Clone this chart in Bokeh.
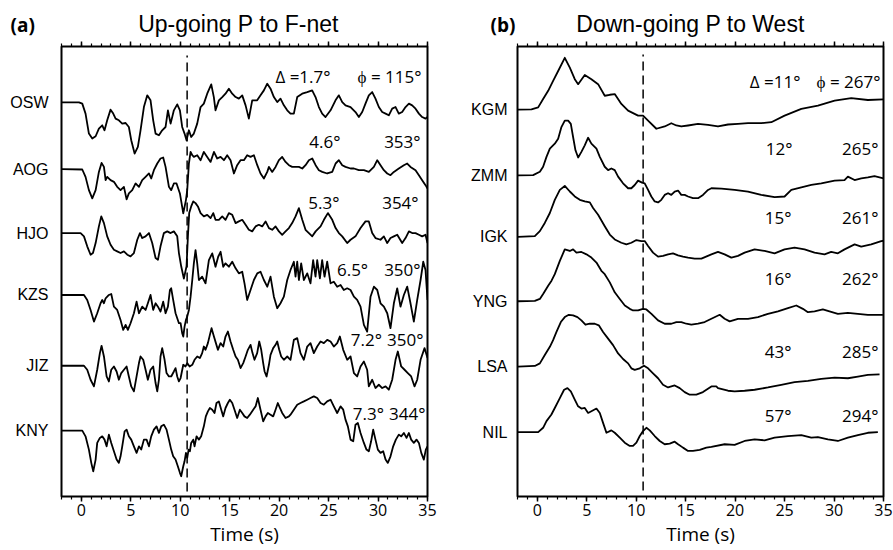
from bokeh.plotting import figure
from bokeh.layouts import row, column
from bokeh.models import Label, Range1d, SingleIntervalTicker, LinearAxis, FixedTicker
from bokeh.embed import file_html
from bokeh.resources import INLINE

# ------------------------------------------------------------------ data
time_ticks_interval = 5
p_arrival = 10.7          # dashed line, seconds

panel_letters = ["(a)", "(b)"]
panel_titles = ["Up-going P to F-net", "Down-going P to West"]

stations_a = ["OSW", "AOG", "HJO", "KZS", "JIZ", "KNY"]
dist_a = ["\u0394 =1.7\u00b0", "4.6\u00b0", "5.3\u00b0", "6.5\u00b0", "7.2\u00b0", "7.3\u00b0"]
azim_a = ["\u03d5 = 115\u00b0", "353\u00b0", "354\u00b0", "350\u00b0", "350\u00b0", "344\u00b0"]

stations_b = ["KGM", "ZMM", "IGK", "YNG", "LSA", "NIL"]
dist_b = ["\u0394 =11\u00b0", "12\u00b0", "15\u00b0", "16\u00b0", "43\u00b0", "57\u00b0"]
azim_b = ["\u03d5 = 267\u00b0", "265\u00b0", "261\u00b0", "262\u00b0", "285\u00b0", "294\u00b0"]

# (time s, relative amplitude)
osw = [(-1.95,0),(-0.24,0),(0.10,-1.3),(0.43,-11.3),(0.77,-31.3),(1.11,-36.3),(1.45,-34),(1.78,-26.3),(2.12,-23),(2.35,-28),(2.62,-18),(2.96,-7.3),(3.23,-11.3),(3.47,-16.3),(3.80,-18),(4.14,-21.3),(4.48,-20.7),(4.81,-24.7),(5.05,-38),(5.39,-51.3),(5.72,-44.7),(5.99,-28),(6.33,-4.7),(6.67,7),(7.00,2),(7.27,-18),(7.51,-31.3),(7.85,-33),(8.18,-28),(8.52,-24.7),(8.76,-8),(9.03,-21.3),(9.36,-8),(9.70,-2),(9.97,-8),(10.20,-24.7),(10.44,-31.3),(10.64,-38),(10.88,-28),(11.11,-34.7),(11.38,-31.3),(11.72,-21.3),(12.06,-4.7),(12.39,-1.3),(12.73,8.7),(13.14,18),(13.40,5.3),(13.57,-8),(13.91,2),(14.25,5.3),(14.58,8.7),(14.92,13.7),(15.26,8.7),(15.60,5.3),(15.93,3.7),(16.27,7),(16.61,-3),(16.94,-16.3),(17.28,2),(17.78,2),(18.12,7),(18.46,12),(18.80,18.7),(19.13,13.7),(19.47,5.3),(19.81,0.3),(20.14,3.7),(20.48,-3),(20.82,-8),(21.15,-11.3),(21.49,-11.3),(21.83,5.3),(22.33,8.7),(22.84,10.3),(23.34,12),(23.68,5.3),(24.02,-4.7),(24.35,-11.3),(24.69,-14.7),(25.20,-8),(25.70,2),(26.04,7),(26.38,0.3),(26.71,-3),(27.22,-4.7),(27.72,-9.7),(28.06,-14.7),(28.40,-9.7),(28.73,-1.3),(29.07,7),(29.41,10.3),(29.74,3.7),(30.08,-4.7),(30.42,-9.7),(30.76,-11.3),(31.09,-13),(31.43,-6.3),(31.77,-4.7),(32.10,-11.3),(32.44,-9.7),(32.78,-4.7),(33.12,-1.3),(33.45,-3),(33.79,-6.3),(34.13,-11.3),(34.46,-14.7),(34.80,-16.3),(35.0,-14.7)]
aog = [(-1.95,0),(0.10,-0.3),(0.43,-7.7),(0.77,-21),(1.11,-29.3),(1.45,-21),(1.78,-2.7),(2.05,6.3),(2.29,2.3),(2.46,-11),(2.62,-7.7),(2.96,-11),(3.30,-12.7),(3.63,-17.7),(3.97,-21),(4.31,-17.7),(4.58,-30.3),(4.81,-24.3),(5.15,-21),(5.49,-14.3),(5.83,-17.7),(6.16,-11),(6.50,-7.7),(6.84,-4.3),(7.07,-9.3),(7.34,-1),(7.68,5.7),(8.01,10.7),(8.28,11.7),(8.52,2.3),(8.86,-17.7),(9.09,-21),(9.36,-14.3),(9.63,-14.3),(9.97,-24.3),(10.20,-37.7),(10.31,-44.3),(10.44,-37.7),(10.58,-31),(10.71,-21),(10.88,5.7),(11.05,17.3),(11.22,14),(11.38,12.3),(11.72,14),(12.06,9),(12.39,17.3),(12.73,12.3),(13.07,7.3),(13.41,17.3),(13.74,10.7),(14.08,12.3),(14.42,9),(14.75,14),(15.09,9),(15.43,-4.3),(15.76,4),(16.10,9),(16.44,9),(16.77,14),(17.11,12.3),(17.45,14),(17.79,4),(18.12,-4.3),(18.46,-9.3),(18.80,-2.7),(18.97,2.3),(19.30,-2.7),(19.64,2.3),(19.98,9),(20.31,12.3),(20.65,7.3),(20.99,4),(21.32,2.3),(21.66,2.3),(22.00,2.3),(22.34,0.7),(22.67,4),(23.01,9),(23.35,10.7),(23.69,4),(24.02,-1),(24.36,-2.7),(24.86,-4.3),(25.37,-2.7),(25.71,5.7),(26.04,9),(26.38,4),(26.71,2.3),(27.22,0.7),(27.56,0.7),(28.06,-1),(28.57,-1),(29.07,-2.7),(29.58,2.3),(29.92,9),(30.25,4),(30.59,-1),(30.93,-4.3),(31.26,-6),(31.60,-2.7),(32.10,0.7),(32.61,4),(32.95,5.7),(33.28,2.3),(33.79,-1),(34.13,-6),(34.46,-11),(34.80,-16),(35.0,-19.3)]
hjo = [(-1.95,0),(-0.07,0),(0.27,-3.3),(0.60,-13.3),(0.94,-21.7),(1.18,-20),(1.45,-10),(1.78,6.7),(2.02,16.7),(2.29,10),(2.62,-3.3),(2.96,-11.7),(3.30,-16.7),(3.63,-18.3),(3.97,-20),(4.31,-18.3),(4.65,-21.7),(4.98,-23.3),(5.32,-20),(5.66,-6.7),(5.93,0),(6.16,-5),(6.50,-3.3),(6.84,0),(7.17,-10),(7.51,-25),(7.75,-26.7),(8.01,-13.3),(8.35,0),(8.69,1.7),(9.03,0),(9.36,1.7),(9.70,-3.3),(9.87,-20),(10.10,-33.3),(10.37,-45.7),(10.64,-33.3),(10.78,-3.3),(10.91,20),(11.11,26.7),(11.32,31.7),(11.55,30),(11.79,26.7),(12.06,20),(12.39,16.7),(12.73,18.3),(13.07,15),(13.34,20),(13.57,13.3),(13.91,13.3),(14.25,16.7),(14.58,13.3),(14.92,20),(15.26,18.3),(15.60,10),(15.93,11.7),(16.27,13.3),(16.61,8.3),(16.94,3.3),(17.28,1.7),(17.62,6.7),(17.95,8.3),(18.29,6.7),(18.63,11.7),(18.97,5),(19.30,3.3),(19.64,6.7),(19.98,1.7),(20.31,-1.7),(20.65,1.7),(20.99,5),(21.32,10),(21.66,16.7),(22.00,25),(22.34,13.3),(22.67,3.3),(23.01,0),(23.35,-3.3),(23.69,1.7),(24.19,6.7),(24.53,13.3),(24.93,20),(25.37,13.3),(25.71,5),(26.04,0),(26.38,-3.3),(26.88,-10),(27.22,-6.7),(27.72,-3.3),(28.23,5),(28.73,11.7),(29.07,11.7),(29.41,0),(29.74,-5),(30.25,-6.7),(30.59,-3.3),(30.93,-10),(31.26,-5),(31.60,-3.3),(31.94,-1.7),(32.44,-10),(32.78,-5),(33.12,1.7),(33.45,0),(33.79,0),(34.13,-1.7),(34.46,-3.3),(34.80,-1.7),(35.0,-10)]
kzs = [(-1.95,0),(0.27,0),(0.60,-5),(0.94,-15),(1.28,-26.7),(1.61,-18.3),(1.95,-8.3),(2.12,-5),(2.29,-8.3),(2.46,-3.3),(2.79,0),(3.03,1),(3.30,-11.7),(3.63,-15),(3.97,-25),(4.24,-35),(4.48,-30),(4.71,-35),(4.98,-28.3),(5.32,-18.3),(5.59,-6.7),(5.83,-18.3),(6.16,-11.7),(6.50,-15),(6.73,-8.3),(7.00,0),(7.27,-15),(7.51,-8.3),(7.75,-11.7),(8.01,-16.7),(8.28,-6.7),(8.52,-18.3),(8.76,-11.7),(8.96,5),(9.09,6.7),(9.29,-5),(9.53,-18.3),(9.87,-28.3),(10.04,-28.3),(10.20,-38.3),(10.31,-41.7),(10.44,-31.7),(10.58,-25),(10.71,-21.7),(10.88,-15),(11.05,-1.7),(11.22,15),(11.38,31.7),(11.55,45),(11.72,31.7),(11.89,15),(12.22,18.3),(12.56,11.7),(12.90,35),(13.24,41.7),(13.57,28.3),(13.84,38.3),(14.08,43.3),(14.35,28.3),(14.58,31.7),(14.92,28.3),(15.26,33.3),(15.60,26.7),(15.93,21.7),(16.27,23.3),(16.50,11.7),(16.77,-5),(17.11,5),(17.45,15),(17.79,21.7),(18.12,23.3),(18.46,15),(18.80,8.3),(19.13,18.3),(19.47,-1.7),(19.81,-13.3),(20.14,-8.3),(20.48,-1.7),(20.82,15),(21.15,25),(21.49,33.3),(21.66,18.3),(21.83,33.3),(22.00,15),(22.23,31.7),(22.50,15),(22.84,21.7),(23.17,11.7),(23.44,35),(23.68,18.3),(23.85,35),(24.12,16.7),(24.35,35),(24.59,18.3),(24.86,33.3),(25.20,11.7),(25.53,13.3),(25.87,8.3),(26.21,10),(26.54,5),(26.88,6.7),(27.22,5),(27.56,-1.7),(27.89,-5),(28.23,-11.7),(28.57,-30),(28.90,-36.7),(29.24,-1.7),(29.58,8.3),(29.92,5),(30.25,-8.3),(30.59,-11.7),(30.93,-18.3),(31.26,-33.3),(31.60,-8.3),(31.94,6.7),(32.27,-11.7),(32.61,0),(32.95,8.3),(33.28,-8.3),(33.62,-26.7),(33.96,-5),(34.30,15),(34.57,33.3),(34.80,25),(35.0,-5)]
jiz = [(-1.95,0),(0.27,0),(0.60,-4),(0.94,-14),(1.28,-20.7),(1.61,-4),(1.88,12.7),(2.05,20),(2.29,9.3),(2.56,-10.7),(2.79,-15.7),(3.03,-4),(3.30,-0.7),(3.57,-5.7),(3.80,-14),(4.04,-7.3),(4.31,-4),(4.58,-0.7),(4.81,-10.7),(5.05,-20.7),(5.32,-25.7),(5.59,-10.7),(5.83,2.7),(5.99,9.3),(6.26,6),(6.50,-4),(6.73,-14),(7.00,-4),(7.27,-0.7),(7.51,-17.3),(7.68,-25.7),(7.85,-14),(8.01,9.3),(8.18,17.7),(8.42,6),(8.62,-7.3),(8.86,-10.7),(9.09,-10.7),(9.36,-5.7),(9.53,-2.3),(9.70,-10.7),(9.87,-15.7),(10.04,-12.3),(10.31,1),(10.54,-0.7),(10.71,2.7),(10.95,-0.7),(11.22,1),(11.45,6),(11.72,9.3),(11.99,7.7),(12.22,12.7),(12.39,19.3),(12.56,16),(12.80,22.7),(13.00,31),(13.17,37.7),(13.41,29.3),(13.61,22.7),(13.81,16),(14.08,22.7),(14.35,19.3),(14.58,29.3),(14.82,34.3),(15.09,24.3),(15.36,16),(15.60,9.3),(15.83,6),(16.10,-2.3),(16.37,2.7),(16.61,9.3),(16.84,16),(17.11,21),(17.31,12.7),(17.51,6),(17.78,12.7),(17.99,24.3),(18.19,16),(18.39,2.7),(18.53,-5.7),(18.73,-10.7),(18.97,1),(19.13,11),(19.40,17.7),(19.64,21),(19.81,24.3),(20.01,16),(20.21,9.3),(20.48,6),(20.82,9.3),(21.15,6),(21.49,26),(21.83,27.7),(22.16,12.7),(22.50,6),(22.84,19.3),(23.17,22.7),(23.51,12.7),(23.85,19.3),(24.19,24.3),(24.52,22.7),(24.86,26),(25.20,24.3),(25.53,19.3),(25.87,22.7),(26.14,29.3),(26.48,16),(26.88,6),(27.22,9.3),(27.56,-7.3),(27.89,-10.7),(28.23,-0.7),(28.57,4.3),(28.90,-4),(29.07,-20.7),(29.41,-14),(29.74,-22.3),(30.08,-19),(30.42,-22.3),(30.76,-20.7),(31.09,-24),(31.43,-14),(31.77,6),(32.00,14.3),(32.34,-0.7),(32.68,-4),(33.01,-7.3),(33.35,-10.7),(33.69,-20.7),(33.96,-14),(34.30,6),(34.70,17.7),(35.0,7.7)]
kny = [(-1.95,0),(0.10,0),(0.43,-5.7),(0.77,-19),(1.01,-32.3),(1.21,-40.7),(1.45,-29),(1.61,-12.3),(1.88,-7.3),(2.12,-5.7),(2.35,-9),(2.56,-15.7),(2.79,-4),(3.03,-12.3),(3.30,-20.7),(3.57,-29),(3.80,-32.3),(3.97,-25.7),(4.14,-15.7),(4.38,-0.7),(4.58,1),(4.81,-5.7),(5.05,-9),(5.32,-15.7),(5.59,-22.3),(5.83,-15.7),(6.06,-19),(6.33,-9),(6.60,-9),(6.84,-15.7),(7.07,-5.7),(7.34,1),(7.61,4.3),(7.85,-2.3),(8.08,4.3),(8.35,6),(8.62,1),(8.86,-9),(9.09,-19),(9.29,-25.7),(9.53,-29),(9.76,-35.7),(9.97,-42.3),(10.10,-45.7),(10.31,-35.7),(10.44,-30.7),(10.58,-22.3),(10.71,-27.3),(10.85,-19),(10.98,-20.7),(11.11,-12.3),(11.32,-9),(11.45,-15.7),(11.65,-5.7),(11.89,-9),(12.12,-5.7),(12.39,4.3),(12.59,14.3),(12.80,19.3),(13.00,22.7),(13.24,21),(13.47,17.7),(13.67,27.7),(13.91,29.3),(14.15,21),(14.35,14.3),(14.58,22.7),(14.82,27.7),(15.02,31),(15.26,27.7),(15.49,21),(15.76,12.7),(16.03,21),(16.27,17.7),(16.50,14.3),(16.77,12.7),(17.04,16),(17.38,21),(17.62,24.3),(17.85,32.7),(18.12,21),(18.39,9.3),(18.63,14.3),(18.86,17.7),(19.13,16),(19.40,14.3),(19.64,21),(19.87,27.7),(20.08,22.7),(20.31,17.7),(20.65,12.7),(20.99,14.3),(21.15,16),(21.49,21),(21.83,26),(22.16,27.7),(22.50,29.3),(22.84,31),(23.17,32.7),(23.51,34.3),(23.85,32.7),(24.19,27.7),(24.52,26),(24.86,29.3),(25.20,31),(25.53,24.3),(25.87,17.7),(26.21,24.3),(26.48,21),(26.71,11),(26.95,4.3),(27.22,-9),(27.49,-10.7),(27.72,6),(27.96,7.7),(28.23,-2.3),(28.57,-12.3),(28.83,-19),(29.07,-20.7),(29.30,-10.7),(29.51,1),(29.74,-9),(29.98,-19),(30.25,-22.3),(30.52,-20.7),(30.76,-29),(30.99,-32.3),(31.26,-25.7),(31.53,-15.7),(31.80,-9),(32.10,-4),(32.34,-5.7),(32.61,-2.3),(32.88,-7.3),(33.12,-2.3),(33.35,-9),(33.62,-12.3),(33.89,-9),(34.13,-12.3),(34.37,-22.3),(34.63,-29),(34.83,-19),(35.0,-15.7)]

kgm = [(-1.95,0),(-0.59,0.3),(0.09,2.3),(0.59,10.7),(1.10,19),(1.60,29),(2.11,39),(2.78,52.3),(3.29,42.3),(3.79,30.7),(4.13,25.7),(4.80,35),(5.47,30.7),(6.15,25.7),(6.82,14),(7.33,15),(7.83,15.7),(8.50,5.7),(9.18,-1),(10.19,-6),(10.69,-6),(11.20,-11),(12.04,-19.3),(12.88,-17),(13.55,-13.7),(14.06,-16),(14.56,-17),(15.24,-16),(16.25,-14.3),(17.26,-15.3),(18.27,-17),(19.28,-15),(20.29,-14.3),(21.30,-13.7),(22.64,-13.7),(23.66,-12.7),(25.00,-6),(26.69,0.7),(28.37,4),(30.06,9),(31.74,11.7),(33.42,9.7),(35.0,10.3)]
zmm = [(-1.95,0),(-0.42,0.3),(0.26,3.7),(0.59,8.7),(0.93,18.7),(1.27,27),(1.77,32),(2.11,37),(2.44,48.7),(2.78,55.3),(3.12,55.3),(3.39,52),(3.62,38.7),(3.86,25.3),(4.13,18),(4.46,23.7),(4.80,30.3),(5.14,38),(5.47,32),(5.98,27),(6.32,18.7),(6.82,8.7),(7.16,5.3),(7.49,7),(7.83,5.3),(8.17,-1.3),(8.67,-8),(9.18,-13),(9.51,-13),(9.85,-9.7),(10.19,-5.3),(10.59,-7.3),(10.86,-8),(11.20,-14.7),(11.53,-21.3),(11.87,-26.3),(12.21,-27.3),(12.54,-24.7),(12.88,-19.7),(13.22,-18),(13.55,-19.7),(13.89,-16.3),(14.23,-15.3),(14.56,-19.7),(14.90,-19.7),(15.24,-21.3),(15.74,-23),(16.25,-23),(16.75,-19.7),(17.26,-14.7),(17.60,-13),(18.61,-13.3),(19.95,-14.7),(21.30,-16.3),(22.64,-19.7),(23.99,-22),(25.00,-21.3),(25.68,-14.7),(26.69,-12),(27.70,-9.7),(28.71,-8),(30.06,-5.3),(31.06,-4.7),(31.40,-1.3),(32.08,-4.7),(32.75,-3),(33.42,-2),(34.09,-0.7),(35.0,-3)]
igk = [(-1.95,0),(-0.25,0.7),(0.26,5.7),(0.76,14),(1.27,24),(1.77,37.3),(2.28,47.3),(2.78,51.3),(3.29,45.7),(3.79,40.7),(4.30,37.3),(4.80,35.7),(5.31,34.7),(5.64,29),(6.15,22.3),(6.82,10.7),(7.33,2.3),(7.83,-2.7),(8.50,-6),(9.01,-7.7),(9.51,-6),(10.02,-3.3),(10.52,-4.3),(10.86,-4.3),(11.20,-9.3),(11.70,-16),(12.21,-20),(12.71,-19.3),(13.22,-17.7),(13.72,-16.7),(14.23,-18.7),(14.73,-20),(15.24,-21),(15.91,-22),(16.59,-22),(17.60,-17.7),(18.27,-15.3),(18.94,-17.7),(19.62,-21),(20.29,-19.3),(20.96,-16),(21.97,-12.7),(22.98,-14.3),(23.99,-16.7),(25.00,-12.7),(26.01,-11),(27.02,-12.7),(28.03,-16),(29.04,-17.7),(29.71,-15.3),(30.39,-16.7),(31.06,-12.7),(32.08,-7.7),(32.75,-10),(33.76,-7.7),(34.77,-4.3),(35.0,-4)]
yng = [(-1.95,0),(-0.25,0.3),(0.26,2.3),(0.59,7.3),(1.10,15.7),(1.44,20.7),(1.77,27.3),(2.28,40.7),(2.78,52.3),(3.29,50.7),(3.62,52.3),(3.96,49),(4.46,49.7),(4.97,47.3),(5.47,44),(5.98,39),(6.48,30.7),(6.82,27.3),(7.33,19),(7.83,9),(8.34,2.3),(8.85,-4.3),(9.35,-7.7),(9.68,-9.3),(10.19,-9.3),(10.69,-7.7),(11.03,-8.3),(11.54,-12.7),(12.21,-19.3),(12.88,-22.7),(13.55,-22.7),(14.06,-21),(14.56,-21),(15.07,-22.7),(15.57,-23.7),(16.25,-22.7),(16.92,-21),(17.60,-17.7),(18.44,-13.7),(18.94,-17.7),(19.45,-20.3),(20.29,-17.7),(21.30,-17.7),(22.31,-16),(23.32,-12.7),(24.33,-10.3),(25.34,-7),(26.18,-4.3),(26.85,-7.7),(27.36,-11),(28.03,-10.3),(28.87,-8.3),(29.54,-10.3),(30.39,-12.7),(31.40,-11.7),(32.41,-12.7),(33.42,-13.7),(34.94,-13.7)]
lsa = [(-1.95,0),(-0.25,0.7),(0.26,3.3),(0.76,11.7),(1.27,20),(1.60,26.7),(1.94,35),(2.38,45),(2.78,50),(3.19,52.3),(3.62,51.7),(4.06,50),(4.46,46.7),(4.87,42.3),(5.31,43.3),(5.81,43.3),(6.22,41.7),(6.65,35),(7.16,28.3),(7.66,21.7),(8.17,13.3),(8.67,7.7),(9.18,3.3),(9.51,-1.7),(9.85,-3.3),(10.36,-1.7),(10.79,1),(11.20,-1.7),(11.70,-6.7),(12.21,-11.7),(12.71,-18.3),(13.22,-21),(13.89,-19),(14.40,-21.7),(14.90,-25.7),(15.41,-28.3),(16.08,-28.3),(16.75,-25.7),(17.60,-20),(18.10,-20),(18.27,-21.7),(19.28,-24.3),(19.95,-25),(20.96,-24.3),(21.97,-23.3),(23.32,-21),(24.66,-18.3),(26.01,-15.7),(27.36,-14.3),(28.71,-12.3),(30.06,-11),(31.40,-11.7),(32.41,-10),(33.42,-8.3),(34.60,-7.7)]
nil = [(-1.95,0),(0.09,0),(0.59,4.3),(0.93,11),(1.43,17.7),(1.77,24.3),(2.28,34.3),(2.71,42.7),(3.05,44.3),(3.39,41),(3.79,32.7),(4.13,26),(4.46,23.7),(4.80,24.3),(5.14,19.3),(5.47,21),(5.98,23.7),(6.32,19.3),(6.65,9.3),(6.99,-0.7),(7.49,1.7),(7.83,-0.7),(8.34,-5.7),(8.84,-10.7),(9.35,-14),(9.68,-14),(10.02,-10.7),(10.36,-4),(10.69,1),(11.03,4.3),(11.37,1.7),(11.87,-4),(12.38,-9),(12.88,-12.3),(13.39,-11.7),(13.89,-9.7),(14.23,-12.3),(14.73,-15.7),(15.24,-19),(15.74,-19),(16.42,-18),(17.09,-15.7),(17.60,-15),(18.94,-12.3),(19.95,-13),(20.96,-9),(21.97,-7.3),(22.98,-8.3),(23.99,-5.7),(25.34,-4),(26.69,-3),(27.70,-5.7),(28.37,-5),(29.38,-7.3),(30.39,-9),(31.40,-5.7),(32.41,-3),(33.42,-0.7),(34.43,0)]

traces_a = [osw, aog, hjo, kzs, jiz, kny]
traces_b = [kgm, zmm, igk, yng, lsa, nil]

# ------------------------------------------------------------------ layout / style
AMP = 1.0 / 66.0                      # amplitude scaling to trace spacing
offsets_a = [5.985, 4.97, 4.0, 3.06, 1.985, 1.0]
offsets_b = [5.914, 4.909, 3.97, 2.985, 1.985, 0.985]
dist_x_a = [25.2, 26.2, 26.1, 29.0, 30.4, 30.6]
azim_x_a = [34.4, 34.3, 34.1, 34.3, 34.6, 34.8]
text_y_a = [6.378, 5.386, 4.47, 3.44, 2.38, 1.26]
dist_x_b = [26.6, 25.8, 25.7, 25.7, 25.7, 25.7]
azim_x_b = [34.7, 34.5, 34.5, 34.5, 34.5, 34.5]
text_y_b = [6.349, 5.318, 4.258, 3.333, 2.212, 1.243]

HUMAN = "Open Sans"
HELV = "Liberation Sans"
HEADER_H = 37
letter_pos = [(10, 13.0), (490, 13.0)]       # header: left edge, height above header bottom
title_pos = [(238, 13.5), (690, 13.5)]       # header: centre, height above header bottom


def make_panel(width, height, left, right, top, bottom, yr, traces, offsets, names,
               name_standoff, dists, dist_x, azims, azim_x, text_y, dash_y):
    p = figure(width=width, height=height, x_range=Range1d(-2, 35), y_range=Range1d(*yr),
               min_border_left=left, min_border_right=right, min_border_top=top,
               min_border_bottom=bottom, output_backend="svg", toolbar_location=None)
    p.xgrid.visible = False
    p.ygrid.visible = False
    p.outline_line_color = "black"
    p.outline_line_width = 2
    p.background_fill_color = "white"
    p.border_fill_color = "white"

    # station names on the left axis
    yax = p.yaxis[0]
    yax.ticker = FixedTicker(ticks=offsets)
    yax.major_label_overrides = {o: n for o, n in zip(offsets, names)}
    yax.axis_line_color = None
    yax.major_tick_line_color = None
    yax.minor_tick_line_color = None
    yax.major_tick_out = 0
    yax.major_tick_in = 0
    yax.major_label_standoff = name_standoff
    yax.major_label_text_font = HELV
    yax.major_label_text_font_size = "16px"
    yax.major_label_text_color = "black"

    top_axis = LinearAxis()
    p.add_layout(top_axis, "above")
    for ax in p.xaxis:
        ax.ticker = SingleIntervalTicker(interval=time_ticks_interval, num_minor_ticks=5)
        ax.axis_line_color = None
        ax.major_tick_out = 5
        ax.major_tick_in = 0
        ax.minor_tick_out = 3
        ax.minor_tick_in = 0
        ax.major_tick_line_width = 1.5
        ax.minor_tick_line_width = 1.2
        ax.major_tick_line_color = "black"
        ax.minor_tick_line_color = "black"
        ax.major_label_text_font = HUMAN
        ax.major_label_text_font_size = "16px"
        ax.major_label_text_color = "black"
        ax.major_label_standoff = 2
    top_axis.major_label_text_font_size = "0px"
    top_axis.major_label_text_color = None
    top_axis.major_label_standoff = 0
    bottom_axis = p.below[0]
    bottom_axis.axis_label = "Time (s)"
    bottom_axis.axis_label_text_font = HUMAN
    bottom_axis.axis_label_text_font_size = "19px"
    bottom_axis.axis_label_text_font_style = "normal"
    bottom_axis.axis_label_text_color = "black"
    bottom_axis.axis_label_standoff = 2

    for tr, off in zip(traces, offsets):
        ts = [v[0] for v in tr]
        ys = [off + v[1] * AMP for v in tr]
        p.line(ts, ys, line_color="black", line_width=1.8, line_join="round")

    p.line([p_arrival, p_arrival], list(dash_y), line_color="black", line_width=1.5,
           line_dash="9 5")

    for d, dx, a, axx, ty in zip(dists, dist_x, azims, azim_x, text_y):
        p.add_layout(Label(x=dx, y=ty, text=d, text_font=HUMAN, text_font_size="17px",
                           text_align="right", text_baseline="middle", text_color="black"))
        p.add_layout(Label(x=axx, y=ty, text=a, text_font=HUMAN, text_font_size="17px",
                           text_align="right", text_baseline="middle", text_color="black"))
    return p


# header with panel letters and titles
hdr = figure(width=893, height=HEADER_H, x_range=Range1d(0, 893), y_range=Range1d(0, HEADER_H),
             title=None, min_border=0, x_axis_location=None, y_axis_location=None,
             output_backend="svg", toolbar_location=None)
hdr.xgrid.visible = False
hdr.ygrid.visible = False
hdr.outline_line_color = None
for (lx, ly), lt in zip(letter_pos, panel_letters):
    hdr.add_layout(Label(x=lx, y=ly, text=lt, text_font=HUMAN, text_font_size="19px",
                         text_font_style="bold", text_align="left", text_baseline="middle",
                         text_color="black"))
for (tx, ty), tt in zip(title_pos, panel_titles):
    hdr.add_layout(Label(x=tx, y=ty, text=tt, text_font=HELV, text_font_size="23px",
                         text_align="center", text_baseline="middle", text_color="black"))

p1 = make_panel(442, 513, 61, 15, 9, 53, (0.0, 6.833), traces_a, offsets_a, stations_a, 13,
                dist_a, dist_x_a, azim_a, azim_x_a, text_y_a, (0.076, 6.697))
p2 = make_panel(451, 513, 75, 10, 5, 54, (0.0, 6.879), traces_b, offsets_b, stations_b, 10,
                dist_b, dist_x_b, azim_b, azim_x_b, text_y_b, (0.091, 6.758))

layout = column(hdr, row(p1, p2))
open("out.html", "w").write(file_html(layout, INLINE))
